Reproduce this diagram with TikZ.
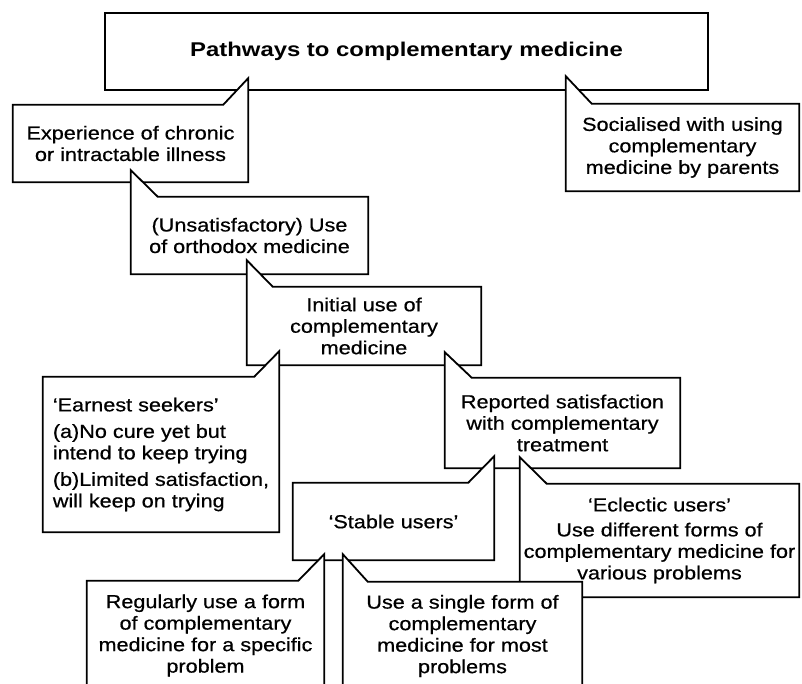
\documentclass[tikz,border=0pt]{standalone}
\usepackage{fontspec}
\setmainfont{Liberation Sans}
\newfontfamily\bodyfont{Liberation Sans}[FakeStretch=1.15,FakeBold=0.6]
\newfontfamily\titlefont{Liberation Sans}[FakeStretch=1.2]
\usetikzlibrary{calc}
\pgfdeclarelayer{background}
\pgfsetlayers{background,main}
\tikzset{
  outline/.style={draw=black, line width=1.8pt, fill=white, line join=miter},
  boxtext/.style={inner sep=0pt, align=center, text=black,
    font=\bodyfont\fontsize{18.8}{21.5}\selectfont},
}
\begin{document}
\begin{tikzpicture}[x=1pt,y=-1pt]
\useasboundingbox (0,0) rectangle (802,684);
\clip (0,0) rectangle (802,684);
% text nodes (box frames)
\node[boxtext, minimum width=603pt, minimum height=77pt,
  font=\titlefont\bfseries\fontsize{19.9}{22}\selectfont] (T) at (406.5,51.5)
  {Pathways to complementary medicine};
\node[boxtext, minimum width=235pt, minimum height=77pt] (E) at (130.5,143.5)
  {Experience of chronic\\or intractable illness};
\node[boxtext, minimum width=233pt, minimum height=87pt] (S) at (682.5,147.5)
  {Socialised with using\\complementary\\medicine by parents};
\node[boxtext, minimum width=237pt, minimum height=77pt] (U) at (249.5,235.5)
  {(Unsatisfactory) Use\\of orthodox medicine};
\node[boxtext, minimum width=234pt, minimum height=78pt] (I) at (364,326)
  {Initial use of\\complementary\\medicine};
\node[boxtext, minimum width=235pt, minimum height=90pt] (R) at (562.5,423)
  {Reported satisfaction\\with complementary\\treatment};
\node[boxtext, align=left, minimum width=236pt, minimum height=155pt] (Ea) at (161,454.5)
  {‘Earnest seekers’\\[5pt](a)No cure yet but\\intend to keep trying\\[5pt](b)Limited satisfaction,\\will keep on trying};
\node[boxtext, minimum width=201pt, minimum height=77pt] (St) at (393.5,521.5)
  {‘Stable users’};
\node[boxtext, minimum width=279pt, minimum height=113pt] (Ec) at (659.5,540.5)
  {‘Eclectic users’\\[3.5pt]Use different forms of\\complementary medicine for\\various problems};
\node[boxtext, minimum width=237pt, minimum height=109pt] (Rg) at (205.5,635.5)
  {Regularly use a form\\of complementary\\medicine for a specific\\problem};
\node[boxtext, minimum width=239pt, minimum height=108pt] (Us) at (462.5,636)
  {Use a single form of\\complementary\\medicine for most\\problems};
% callout outlines, drawn parent first so each tail covers its parent's edge
\begin{pgfonlayer}{background}
\draw[outline] (T.north west) rectangle (T.south east);
\draw[outline] (E.south west) -- (E.north west) -- ([xshift=-25pt]E.north east)
  -- ($(E.north east |- T.south)+(0,-12)$) -- (E.south east) -- cycle;
\draw[outline] (S.south west) -- ($(S.north west |- T.south)+(0,-14)$)
  -- ([xshift=26pt]S.north west) -- (S.north east) -- (S.south east) -- cycle;
\draw[outline] (U.south west) -- ($(U.north west |- E.south)+(0,-12)$)
  -- ([xshift=27pt]U.north west) -- (U.north east) -- (U.south east) -- cycle;
\draw[outline] (I.south west) -- ($(I.north west |- U.south)+(0,-14)$)
  -- ([xshift=26pt]I.north west) -- (I.north east) -- (I.south east) -- cycle;
\draw[outline] (Ea.south west) -- (Ea.north west) -- ([xshift=-25pt]Ea.north east)
  -- ($(Ea.north east |- I.south)+(0,-14)$) -- (Ea.south east) -- cycle;
\draw[outline] (R.south west) -- ($(R.north west |- I.south)+(0,-13)$)
  -- ([xshift=27pt]R.north west) -- (R.north east) -- (R.south east) -- cycle;
\draw[outline] (St.south west) -- (St.north west) -- ([xshift=-26pt]St.north east)
  -- ($(St.north east |- R.south)+(0,-12)$) -- (St.south east) -- cycle;
\draw[outline] (Ec.south west) -- ($(Ec.north west |- R.south)+(0,-11)$)
  -- ([xshift=27pt]Ec.north west) -- (Ec.north east) -- (Ec.south east) -- cycle;
\draw[outline] (Rg.south west) -- (Rg.north west) -- ([xshift=-26pt]Rg.north east)
  -- ($(Rg.north east |- St.south)+(0,-6)$) -- (Rg.south east) -- cycle;
\draw[outline] (Us.south west) -- ($(Us.north west |- St.south)+(0,-6)$)
  -- ([xshift=25pt]Us.north west) -- (Us.north east) -- (Us.south east) -- cycle;
\end{pgfonlayer}
\end{tikzpicture}
\end{document}
